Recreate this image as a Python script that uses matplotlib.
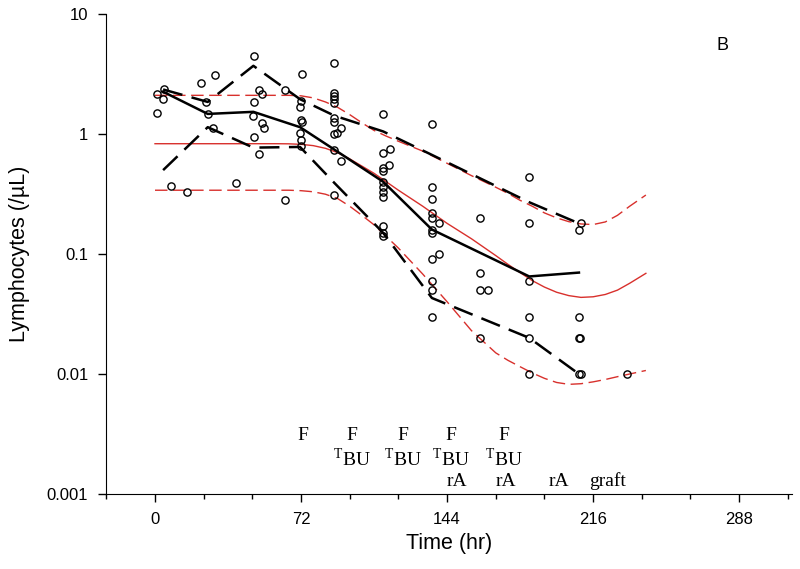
import numpy as np
import matplotlib
matplotlib.use("Agg")
import matplotlib.pyplot as plt
from matplotlib.ticker import FixedLocator, NullLocator

plt.rcParams['font.family'] = ['Liberation Sans', 'DejaVu Sans']
plt.rcParams['mathtext.fontset'] = 'custom'
plt.rcParams['mathtext.rm'] = 'Liberation Serif'

# observed lymphocyte counts (time hr, count /uL)
obs_t = [0.8, 4.4, 4.1, 0.8, 7.7, 16,
         22.7, 29.6, 25, 26, 28.4, 40,
         49, 51.4, 52.8, 48.8, 48.2, 52.8, 53.8, 49, 51.4, 64.3, 64.3,
         72.6, 71.8, 71.5, 71.8, 72.5, 71.5, 72, 71.8,
         88.4, 88.4, 88.4, 88.4, 88.4, 88.4, 88.4, 91.7, 89.6, 88.4, 88.4, 91.7, 88.4,
         112.4, 112.3, 115.9, 112.3, 112.3, 115.6, 112.3, 112.3, 112.3, 112.3, 112.3, 112.3, 112.3,
         136.5, 136.5, 136.5, 136.5, 136.5, 140.2, 136.5, 136.5, 136.5, 139.9, 136.5, 136.5, 136.5,
         160.4, 160.4, 160.4, 164.2, 160.4,
         184.6, 184.6, 184.6, 184.6, 184.6, 184.6,
         210.2, 208.8, 208.8, 208.8, 209.5, 208.8, 209.8, 232.6]
obs_y = [2.15, 2.37, 1.95, 1.49, 0.37, 0.33,
         2.68, 3.1, 1.86, 1.47, 1.12, 0.39,
         4.47, 2.33, 2.15, 1.85, 1.41, 1.24, 1.12, 0.95, 0.68, 2.33, 0.28,
         3.14, 1.88, 1.67, 1.31, 1.27, 1.01, 0.89, 0.79,
         3.9, 2.21, 2.07, 1.94, 1.82, 1.37, 1.27, 1.12, 1.01, 1.0, 0.74, 0.60, 0.31,
         1.48, 0.69, 0.75, 0.52, 0.49, 0.55, 0.40, 0.36, 0.33, 0.30, 0.17, 0.15, 0.14,
         1.21, 0.36, 0.29, 0.22, 0.20, 0.18, 0.16, 0.15, 0.090, 0.10, 0.060, 0.050, 0.030,
         0.20, 0.070, 0.050, 0.050, 0.020,
         0.44, 0.18, 0.060, 0.030, 0.020, 0.010,
         0.18, 0.16, 0.030, 0.020, 0.020, 0.010, 0.010, 0.010]

# binned summaries (black lines)
bin_t = [4, 26, 48.5, 71.5, 88.5, 112.5, 136.5, 184.5, 209]
bin_median = [2.25, 1.47, 1.53, 1.14, 0.74, 0.40, 0.16, 0.065, 0.070]
bin_upper = [2.35, 1.85, 3.7, 1.95, 1.42, 1.05, 0.67, 0.27, 0.18]
bin_lower = [0.50, 1.14, 0.77, 0.78, 0.39, 0.15, 0.043, 0.020, 0.010]

# model prediction (red lines)
mod_t = [0, 12, 24, 36, 48, 60, 66, 72, 78, 84, 90, 96, 102, 108, 114, 120,
         132, 144, 156, 168, 174, 180, 186, 192, 198, 204, 210, 216, 222, 228, 234, 242]
mod_median = [0.83, 0.83, 0.83, 0.83, 0.83, 0.83, 0.828, 0.82, 0.80, 0.76, 0.70, 0.62,
              0.54, 0.47, 0.40, 0.34, 0.25, 0.18, 0.134, 0.097, 0.082, 0.070, 0.060,
              0.053, 0.048, 0.045, 0.0435, 0.044, 0.046, 0.050, 0.057, 0.069]
mod_upper = [2.1, 2.1, 2.1, 2.1, 2.1, 2.1, 2.1, 2.08, 2.0, 1.85, 1.67, 1.45,
             1.24, 1.07, 0.96, 0.87, 0.72, 0.57, 0.45, 0.36, 0.32, 0.28, 0.25,
             0.22, 0.20, 0.186, 0.178, 0.176, 0.185, 0.21, 0.25, 0.31]
mod_lower = [0.34, 0.34, 0.34, 0.34, 0.34, 0.34, 0.34, 0.337, 0.33, 0.315, 0.29, 0.25,
             0.21, 0.175, 0.14, 0.112, 0.068, 0.040, 0.023, 0.015, 0.013, 0.0115, 0.0102,
             0.0092, 0.0085, 0.0082, 0.0083, 0.0086, 0.009, 0.0095, 0.010, 0.0107]

# dosing annotations: (x, row, text)
ann_x = [73, 97, 122, 146, 172, 97, 122, 146, 172, 149, 173, 199, 223]
ann_row = [0, 0, 0, 0, 0, 1, 1, 1, 1, 2, 2, 2, 2]
ann_txt = ['F', 'F', 'F', 'F', 'F',
           r'$^{\mathrm{T}}$BU', r'$^{\mathrm{T}}$BU', r'$^{\mathrm{T}}$BU', r'$^{\mathrm{T}}$BU',
           'rA', 'rA', 'rA', 'graft']
row_y = [0.121, 0.073, 0.027]

fig = plt.figure(figsize=(8, 5.69), dpi=100)
ax = fig.add_axes([0.1329, 0.1318, 0.857, 0.8436])

red = '#d8302c'
ax.plot(mod_t, mod_median, color=red, lw=1.0)
ax.plot(mod_t, mod_upper, color=red, lw=1.0, dashes=(9, 4))
ax.plot(mod_t, mod_lower, color=red, lw=1.0, dashes=(9, 4))

ax.plot(bin_t, bin_median, color='black', lw=1.8)
ax.plot(bin_t, bin_upper, color='black', lw=1.8, dashes=(8, 3.8))
ax.plot(bin_t, bin_lower, color='black', lw=1.8, dashes=(8, 3.8))

ax.plot(obs_t, obs_y, 'o', ms=5.2, mfc='none', mec='black', mew=1.0)

ax.set_yscale('log')
ax.set_ylim(0.001, 10)
ax.set_xlim(-24, 314)
ax.yaxis.set_major_locator(FixedLocator([0.001, 0.01, 0.1, 1, 10]))
ax.yaxis.set_minor_locator(NullLocator())
ax.set_yticklabels(['0.001', '0.01', '0.1', '1', '10'])
ax.xaxis.set_major_locator(FixedLocator([0, 72, 144, 216, 288]))
ax.xaxis.set_minor_locator(FixedLocator([-24, 24, 48, 96, 120, 168, 192, 240, 264, 312]))
ax.tick_params(which='major', direction='out', length=6, width=1, labelsize=12, pad=7)
ax.tick_params(which='minor', direction='out', length=3.5, width=1)
ax.spines['top'].set_visible(False)
ax.spines['right'].set_visible(False)

ax.set_xlabel('Time (hr)', fontsize=15.5, labelpad=4)
ax.set_ylabel('Lymphocytes (/µL)', fontsize=15.5, labelpad=12)

tr = ax.get_xaxis_transform()
for x, r, s in zip(ann_x, ann_row, ann_txt):
    ax.text(x, row_y[r], s, transform=tr, ha='center', va='center',
            fontsize=14, family='Liberation Serif')

ax.text(280, 0.935, 'B', transform=tr, ha='center', va='center', fontsize=13)

plt.savefig('out.png', dpi=100)
